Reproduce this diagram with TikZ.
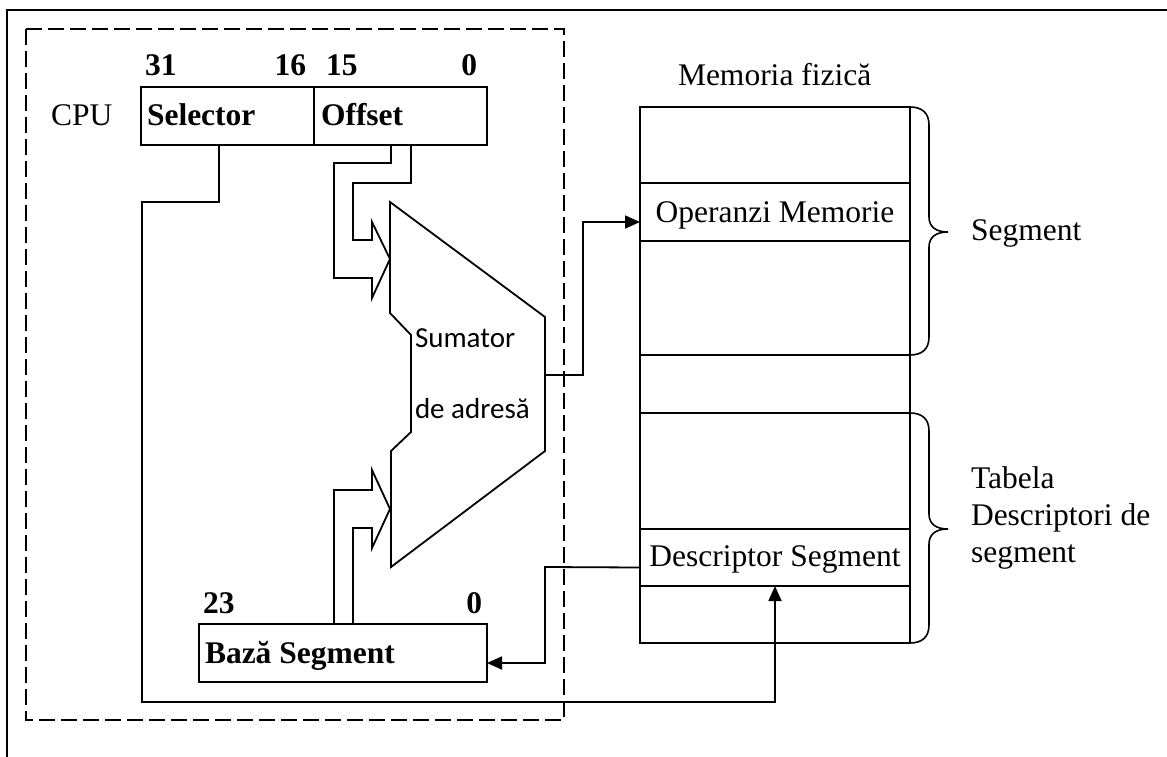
\documentclass[tikz,border=0pt]{standalone}
\usepackage{fontspec}
\setmainfont{Liberation Serif}
\newfontfamily\calfont{Carlito}
\usetikzlibrary{calc,arrows.meta}

\begin{document}
\begin{tikzpicture}[x=1pt,y=-1pt,
  line width=1.8pt,
  txt/.style={inner sep=0pt,outer sep=0pt,font=\fontsize{31.5}{38}\selectfont},
  bold/.style={txt,font=\fontsize{31.5}{38}\selectfont\bfseries},
  regbox/.style={draw,inner sep=0pt,outer sep=0pt,anchor=north west},
  cell/.style={draw,line width=1.6pt,inner sep=0pt,outer sep=0pt,anchor=north west,
    minimum width=270pt},
  wire/.style={line width=1.8pt},
  arr/.style={wire,-{Triangle[length=15pt,width=13pt]}},
  dashbox/.style={line width=2pt,dash pattern=on 16pt off 6pt}]

\useasboundingbox (0,0) rectangle (1167,756);

% outer frame (runs past the page on the right and at the bottom)
\draw[line width=2pt] (7,1200) -- (7,10) -- (1300,10);

% CPU boundary
\draw[dashbox] (26,29) rectangle (564,720);
\node[txt,anchor=base west] (cpu) at (51,125) {CPU};

% address register: selector | offset
\node[regbox,minimum width=173pt,minimum height=58pt] (sel) at (141,87) {};
\node[regbox,minimum width=173pt,minimum height=58pt] (off) at (314,87) {};
\node[bold,anchor=base west] (selt) at (147,125) {Selector};
\node[bold,anchor=base west] (offt) at (321,125) {Offset};
\node[bold,anchor=base west] (b31) at (145,75) {31};
\node[bold,anchor=base east] (b16) at (306,75) {16};
\node[bold,anchor=base west] (b15) at (326,75) {15};
\node[bold,anchor=base east] (b0a) at (477,75) {0};

% segment base register
\node[regbox,minimum width=288pt,minimum height=58pt] (base) at (199,624) {};
\node[bold,anchor=base west] (baset) at (205,663) {Bază Segment};
\node[bold,anchor=base west] (b23) at (203,613) {23};
\node[bold,anchor=base east] (b0b) at (482,613) {0};

% address adder
\draw (390,202) -- (545,317) -- (545,451) -- (391,567) -- (391,451)
      -- (411,432) -- (411,335) -- (390,313) -- cycle;
\coordinate (addout) at (545,375);
\node[txt,anchor=base west,font=\calfont\fontsize{29}{35}\selectfont] (sum1) at (415,347) {Sumator};
\node[txt,anchor=base west,font=\calfont\fontsize{29}{35}\selectfont] (sum2) at (415,418) {de adresă};

% offset bus into the adder
\draw[wire] ($(off.south west)+(77,0)$) -- (391,163) -- (334,163) -- (334,278)
      -- (372,278) -- (372,298) -- (390,259) -- (372,222) -- (372,240)
      -- (353,240) -- (353,183) -- (411,183) -- ($(off.south west)+(97,0)$);

% base bus into the adder
\draw[wire] ($(base.north west)+(135,0)$) -- (334,490) -- (372,490) -- (372,470)
      -- (390,509) -- (372,548) -- (372,528) -- (353,528) -- ($(base.north west)+(154,0)$);

% physical memory
\node[txt,anchor=base west] (memt) at (678,85) {Memoria fizică};
\node[cell,minimum height=76pt] (m1) at (640,107) {};
\node[cell,minimum height=58pt] (opm) at (640,183) {};
\node[cell,minimum height=114pt] (m3) at (640,241) {};
\node[cell,minimum height=58pt] (m4) at (640,355) {};
\node[cell,minimum height=116pt] (m5) at (640,413) {};
\node[cell,minimum height=57pt] (desc) at (640,529) {};
\node[cell,minimum height=57pt] (m7) at (640,586) {};
\node[txt,anchor=base] (opmt) at (775,222) {Operanzi Memorie};
\node[txt,anchor=base] (desct) at (775,566) {Descriptor Segment};

% braces
\draw[line width=1.6pt] (910,107) .. controls (922,107) and (929,113) .. (929,125)
  -- (929,217) .. controls (929,227) and (936,232) .. (948,232)
  .. controls (936,232) and (929,237) .. (929,247)
  -- (929,337) .. controls (929,349) and (922,355) .. (910,355);
\draw[line width=1.6pt] (910,413) .. controls (922,413) and (929,419) .. (929,431)
  -- (929,514) .. controls (929,524) and (936,529) .. (948,529)
  .. controls (936,529) and (929,534) .. (929,544)
  -- (929,625) .. controls (929,637) and (922,643) .. (910,643);
\node[txt,anchor=base west] (segt) at (971,240) {Segment};
\node[txt,anchor=base west] (tdt) at (971,488) {Tabela};
\node[txt,anchor=base west] (tdt2) at (971,525) {Descriptori de};
\node[txt,anchor=base west] (tdt3) at (971,562) {segment};

% connections
\draw[arr] (addout) -- (583,375) |- ($(opm.west)+(0,10)$);
\draw[arr] ($(sel.south west)+(78,0)$) -- (219,202) -- (142,202) -- (142,702) -| (desc.south);
\draw[arr] ($(desc.west)+(0,10)$) -- (545,567) |- ($(base.east)+(0,10)$);

\end{tikzpicture}
\end{document}
